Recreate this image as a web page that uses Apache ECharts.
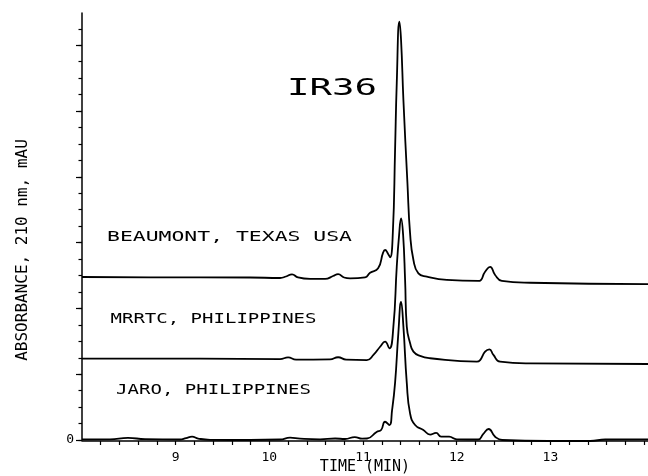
<!DOCTYPE html>
<html><head><meta charset="utf-8">
<script src="https://cdn.jsdelivr.net/npm/echarts@6/dist/echarts.min.js"></script>
<style>html,body{margin:0;padding:0;background:#fff}#c{width:648px;height:476px}</style>
</head><body><div id="c"></div>
<script>
// ---- data (time in min, absorbance in axis units) ----
const beaumont = [[8.000,9.91],[8.726,9.89],[9.794,9.88],[10.114,9.85],[10.178,9.94],[10.242,10.07],[10.306,9.88],[10.435,9.79],[10.595,9.79],[10.680,9.97],[10.734,10.09],[10.798,9.88],[10.862,9.83],[11.022,9.89],[11.075,10.17],[11.161,10.44],[11.214,11.39],[11.235,11.55],[11.268,11.31],[11.289,11.11],[11.318,12.58],[11.342,17.63],[11.360,21.7],[11.388,25.43],[11.406,24.3],[11.431,20.67],[11.474,15.62],[11.502,12.58],[11.538,10.94],[11.591,10.13],[11.681,9.93],[11.894,9.73],[12.232,9.67],[12.303,10.23],[12.357,10.53],[12.410,10.03],[12.482,9.67],[12.784,9.56],[14.042,9.48]];
const mrrtc = [[8.000,4.95],[9.260,4.95],[10.114,4.92],[10.200,5.02],[10.285,4.89],[10.648,4.90],[10.734,5.03],[10.819,4.89],[11.040,4.86],[11.111,5.17],[11.182,5.67],[11.235,5.98],[11.281,5.57],[11.324,6.89],[11.360,10.53],[11.385,12.46],[11.406,13.48],[11.428,12.46],[11.449,9.73],[11.467,6.89],[11.502,5.90],[11.538,5.37],[11.609,5.11],[11.716,4.97],[12.215,4.76],[12.250,4.86],[12.303,5.37],[12.349,5.51],[12.392,5.17],[12.463,4.76],[12.784,4.66],[14.042,4.62]];
const jaro = [[8.000,0.03],[8.299,0.04],[8.491,0.13],[8.673,0.05],[9.046,0.03],[9.111,0.12],[9.175,0.20],[9.239,0.09],[9.367,0.01],[9.794,0.0],[10.114,0.03],[10.221,0.14],[10.328,0.08],[10.541,0.04],[10.702,0.09],[10.808,0.06],[10.912,0.18],[10.990,0.08],[11.043,0.09],[11.145,0.49],[11.193,0.61],[11.235,1.11],[11.281,0.91],[11.310,1.82],[11.342,3.47],[11.377,6.50],[11.406,8.39],[11.431,6.89],[11.467,3.47],[11.502,1.62],[11.556,0.91],[11.644,0.61],[11.716,0.33],[11.780,0.43],[11.833,0.21],[11.919,0.20],[12.001,0.04],[12.229,0.03],[12.282,0.36],[12.341,0.67],[12.410,0.20],[12.485,0.0],[12.976,-0.06],[13.425,-0.06],[13.585,0.03],[14.042,0.04]];

const seriesNames = ['BEAUMONT, TEXAS USA', 'MRRTC, PHILIPPINES', 'JARO, PHILIPPINES'];
const chartTitle = 'IR36';
const xTitle = 'TIME (MIN)';
const yTitle = 'ABSORBANCE, 210 nm, mAU';
const xTickLabels = [9, 10, 11, 12, 13];
const xTicks = [8.2,8.4,8.6,8.8,9,9.2,9.4,9.6,9.8,10,10.2,10.4,10.6,10.8,11,11.2,11.4,11.6,11.8,12,12.2,12.4,12.6,12.8,13,13.2,13.4,13.6,13.8,14];
const yTickLabels = [0];
const yMinorTicks = [0,1,2,3,4,5,6,7,8,9,10,11,12,13,14,15,16,17,18,19,20,21,22,23,24,25];
const yMajorTicks = [0,4,8,12,16,20,24];

// ---- layout / style ----
const FONT = '"DejaVu Sans Mono", "Liberation Mono", monospace';
const INK = '#000';

const chart = echarts.init(document.getElementById('c'), null, {renderer: 'canvas'});

const measureCtx = document.createElement('canvas').getContext('2d');
function stretchedText(text, x, y, w, size) {
  measureCtx.font = size + 'px ' + FONT;
  const mw = measureCtx.measureText(text).width;
  return {
    type: 'text', x: x, y: y, scaleX: w / mw, silent: true,
    style: {text: text, font: size + 'px ' + FONT, fill: INK,
            align: 'left', textAlign: 'left', verticalAlign: 'middle', textVerticalAlign: 'middle'}
  };
}

function traceSeries(name, data) {
  return {
    name: name, type: 'line', data: data, showSymbol: false, smooth: 0.5,
    clip: false, silent: true,
    lineStyle: {color: INK, width: 1.8}
  };
}

const option = {
  backgroundColor: '#fff',
  animation: false,
  grid: {left: 82, right: 0, top: 13, bottom: 36, containLabel: false, outerBoundsMode: 'none'},
  xAxis: {
    type: 'value', min: 8, max: 14.042, offset: 1,
    axisLine: {show: true, onZero: false, lineStyle: {color: INK, width: 1.5}},
    axisTick: {show: true, length: 4, customValues: xTicks, lineStyle: {color: INK, width: 1.2}},
    axisLabel: {customValues: xTickLabels, formatter: v => String(v), margin: 10,
                fontFamily: FONT, fontSize: 13, color: INK},
    splitLine: {show: false},
    name: xTitle, nameLocation: 'middle', nameGap: 19, nameMoveOverlap: false,
    nameTextStyle: {fontFamily: FONT, fontSize: 15, color: INK}
  },
  yAxis: [{
    type: 'value', min: 0, max: 25.96, position: 'left',
    axisLine: {show: true, lineStyle: {color: INK, width: 1.5}},
    axisTick: {show: true, length: 3.5, customValues: yMinorTicks, lineStyle: {color: INK, width: 1.2}},
    axisLabel: {customValues: yTickLabels, formatter: v => String(v), margin: 8,
                fontFamily: FONT, fontSize: 13, color: INK},
    splitLine: {show: false},
    name: yTitle, nameLocation: 'middle', nameGap: 51, nameRotate: 90, nameMoveOverlap: false,
    nameTextStyle: {fontFamily: FONT, fontSize: 16, color: INK, padding: [0, 47, 0, 0]}
  }, {
    type: 'value', min: 0, max: 25.96, position: 'left',
    axisLine: {show: false},
    axisTick: {show: true, length: 6, customValues: yMajorTicks, lineStyle: {color: INK, width: 1.2}},
    axisLabel: {show: false},
    splitLine: {show: false}
  }],
  series: [
    traceSeries(seriesNames[0], beaumont),
    traceSeries(seriesNames[1], mrrtc),
    traceSeries(seriesNames[2], jaro)
  ],
  graphic: [
    stretchedText(chartTitle, 287, 89, 90, 23),
    stretchedText(seriesNames[0], 107, 237.5, 245, 14),
    stretchedText(seriesNames[1], 110.5, 319, 206, 14),
    stretchedText(seriesNames[2], 116, 390.5, 195, 14)
  ]
};
chart.setOption(option);
</script>
</body></html>
